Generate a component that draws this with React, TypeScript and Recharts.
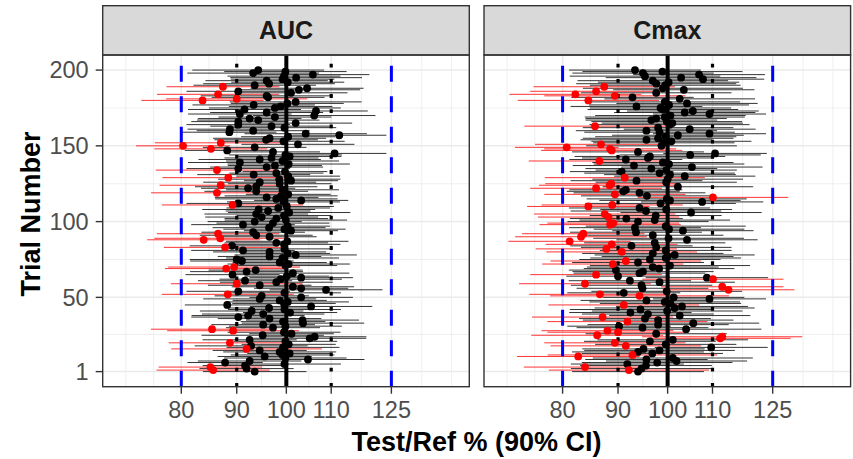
import React from "react";
import { ScatterChart, Scatter, XAxis, YAxis, ReferenceLine, ErrorBar, CartesianGrid } from "recharts";

// point estimates (Test/Ref %) for trials 1..200
const aucPE = [
  93.5, 85.6, 91.9, 85.1, 91.6, 99.6, 87.8, 92.5, 104.7, 99.8,
  95.5, 99.2, 100.7, 98.6, 94.5, 91.9, 99.3, 92.8, 100.5, 88.7,
  99.8, 92.5, 105.1, 106.2, 95.1, 101.1, 99.5, 89.3, 85.4, 97.2,
  99.8, 95.2, 103.6, 99.3, 103.5, 96.5, 90.3, 92.2, 95.2, 100.8,
  92.9, 99.6, 96.4, 105.4, 88.2, 99.5, 100.3, 98.6, 94.5, 103.2,
  94.9, 88.3, 99.6, 90.3, 108.8, 103.2, 101.4, 94.5, 90.0, 97.9,
  91.6, 98.8, 103.2, 100.1, 89.2, 101.4, 91.9, 93.7, 88.0, 89.5,
  99.8, 100.5, 98.6, 91.0, 90.0, 99.2, 96.5, 102.0, 100.3, 96.5,
  91.2, 99.6, 87.8, 89.1, 99.5, 97.9, 100.2, 83.9, 86.9, 96.5,
  93.8, 86.5, 93.2, 101.0, 99.6, 96.4, 100.3, 91.2, 97.2, 93.5,
  99.9, 97.9, 94.9, 99.5, 93.8, 100.6, 96.2, 94.3, 98.3, 100.1,
  89.2, 90.3, 99.4, 103.2, 97.9, 95.9, 98.9, 100.4, 86.3, 93.8,
  99.2, 92.2, 93.8, 87.0, 98.6, 94.5, 101.0, 98.5, 88.4, 100.4,
  93.3, 97.9, 99.7, 86.3, 90.3, 95.9, 97.6, 100.5, 90.6, 99.2,
  94.5, 96.9, 100.7, 99.8, 110.8, 97.2, 88.2, 85.2, 93.5, 80.3,
  102.5, 87.0, 99.4, 95.8, 96.5, 100.4, 111.9, 104.2, 88.6, 93.2,
  88.7, 99.6, 96.9, 90.3, 102.0, 90.3, 94.2, 92.5, 97.6, 106.1,
  90.6, 95.9, 106.5, 91.5, 97.6, 98.8, 93.3, 100.2, 102.0, 83.7,
  90.0, 96.2, 95.9, 86.5, 101.0, 90.3, 102.7, 104.5, 87.4, 93.5,
  96.4, 100.3, 95.9, 99.2, 102.1, 99.5, 105.8, 93.2, 99.8, 94.2,
];

// half width of the 90% CI on the log scale, in percent
const aucHW = [
  11, 12, 10, 11, 9, 12, 8, 11, 12, 13,
  10, 11, 9, 12, 10, 16, 12, 12, 10, 13,
  11, 10, 12, 11, 13, 9, 12, 14, 13, 10,
  12, 11, 13, 9, 12, 11, 10, 12, 13, 10,
  11, 12, 9, 13, 9, 11, 13, 10, 12, 11,
  10, 14, 12, 11, 12, 10, 13, 11, 14, 12,
  10, 13, 11, 9, 10, 12, 12, 10, 13, 14,
  11, 13, 10, 11, 10, 12, 11, 13, 9, 12,
  11, 10, 13, 9, 12, 11, 13, 12, 14, 10,
  12, 13, 11, 10, 13, 12, 9, 11, 12, 10,
  13, 11, 12, 10, 11, 13, 9, 12, 11, 10,
  15, 11, 12, 10, 13, 11, 12, 9, 14, 11,
  12, 10, 13, 13, 11, 12, 10, 13, 14, 11,
  12, 10, 9, 13, 11, 12, 10, 13, 11, 12,
  13, 10, 11, 12, 11, 10, 9, 12, 11, 10,
  12, 14, 13, 11, 12, 10, 10, 13, 10, 12,
  9, 11, 13, 11, 12, 10, 13, 11, 12, 13,
  11, 12, 11, 12, 14, 11, 13, 12, 14, 13,
  15, 12, 14, 13, 12, 11, 13, 12, 12, 13,
  14, 12, 13, 11, 14, 12, 12, 14, 13, 14,
];

const cmaxPE = [
  93.9, 92.1, 94.6, 83.9, 95.5, 91.8, 97.8, 101.9, 95.6, 101.1,
  82.7, 92.8, 96.8, 93.9, 98.3, 95.0, 109.7, 91.5, 99.6, 89.4,
  96.3, 101.1, 111.8, 112.3, 86.1, 97.6, 90.0, 88.0, 104.0, 94.8,
  90.2, 98.0, 105.6, 91.8, 98.0, 95.3, 87.1, 102.6, 95.9, 92.4,
  99.9, 94.4, 101.5, 103.1, 91.1, 100.6, 99.4, 95.6, 109.3, 101.3,
  94.2, 86.6, 91.1, 99.8, 113.8, 94.8, 112.3, 94.6, 83.9, 98.3,
  92.3, 110.1, 108.7, 90.0, 85.9, 94.2, 94.9, 89.6, 98.2, 96.9,
  100.5, 89.0, 93.9, 91.5, 96.3, 99.6, 100.0, 101.5, 96.9, 90.7,
  99.6, 87.8, 97.6, 92.6, 88.8, 97.3, 81.2, 104.2, 100.2, 83.2,
  96.9, 83.6, 93.5, 103.3, 100.3, 93.3, 99.6, 88.5, 89.1, 93.9,
  97.3, 91.6, 88.2, 97.5, 87.5, 105.1, 95.5, 99.7, 94.2, 84.5,
  88.9, 98.5, 107.6, 100.5, 99.8, 110.1, 95.7, 89.4, 94.2, 91.0,
  91.5, 85.9, 102.2, 88.4, 88.7, 99.7, 93.6, 100.0, 91.3, 103.7,
  100.5, 98.3, 90.7, 99.7, 96.6, 105.3, 93.1, 100.3, 99.0, 86.5,
  91.5, 95.9, 96.3, 104.9, 110.6, 93.9, 88.8, 88.5, 80.7, 98.7,
  86.8, 99.2, 100.8, 95.6, 98.0, 99.6, 102.2, 109.3, 98.3, 95.6,
  104.8, 98.0, 85.7, 100.4, 101.0, 99.8, 96.6, 97.6, 99.4, 100.6,
  109.3, 103.7, 105.5, 99.0, 98.5, 93.6, 100.3, 104.2, 99.4, 84.5,
  102.6, 92.8, 89.4, 82.2, 97.6, 85.9, 103.5, 99.0, 87.4, 99.5,
  97.6, 100.2, 96.9, 107.8, 102.9, 95.3, 106.9, 94.9, 98.9, 93.3,
];

const cmaxHW = [
  14, 17, 15, 13, 14, 12, 16, 15, 13, 17,
  13, 18, 15, 14, 16, 13, 12, 16, 15, 15,
  14, 16, 15, 17, 14, 15, 15, 14, 16, 14,
  11, 15, 14, 17, 16, 14, 15, 15, 14, 13,
  16, 15, 17, 14, 16, 15, 16, 14, 12, 15,
  19, 15, 12, 16, 14, 14, 13, 15, 14, 16,
  13, 15, 13, 11, 14, 14, 15, 10, 16, 14,
  17, 15, 14, 16, 15, 16, 14, 17, 15, 16,
  14, 15, 16, 13, 14, 15, 13, 15, 16, 14,
  15, 13, 14, 15, 16, 14, 17, 15, 14, 15,
  16, 12, 15, 14, 15, 15, 16, 14, 15, 13,
  15, 16, 13, 15, 17, 16, 14, 15, 14, 12,
  12, 14, 16, 15, 14, 15, 14, 16, 17, 15,
  14, 16, 11, 15, 14, 15, 13, 16, 15, 15,
  12, 14, 16, 15, 11, 14, 15, 14, 11, 16,
  14, 15, 17, 14, 16, 15, 14, 12, 16, 15,
  14, 16, 15, 17, 15, 16, 14, 15, 17, 16,
  12, 15, 14, 16, 15, 14, 17, 15, 16, 15,
  16, 13, 15, 14, 16, 14, 15, 17, 15, 16,
  17, 15, 16, 13, 16, 16, 14, 15, 17, 14,
];

const xTicks = [80, 90, 100, 110, 125];
const xMinor = [71.11, 75.42, 84.85, 94.87, 104.88, 117.26, 133.33, 142.05];
const yTicks = [1, 50, 100, 150, 200];
const yMinor = [25.5, 75, 125, 175];
const beLimits = [80, 125];
const innerLimits = [90, 110];
const xDomain = [67.7, 147.5];
const yDomain = [-8.95, 209.95];

const FONT = "'Liberation Sans', Arial, Helvetica, sans-serif";

function buildRows(pe: number[], hw: number[]) {
  return pe.map((v, i) => {
    const f = Math.exp(hw[i] / 100);
    const lo = v / f;
    const hi = v * f;
    return { trial: i + 1, pe: v, err: [v - lo, hi - v], fail: lo < 80 || hi > 125 };
  });
}

const noDot = () => <g />;
const dot = (color: string) => (p: any) => <circle cx={p.cx} cy={p.cy} r={3.9} fill={color} />;

function Panel({ rows, left, width, margin, showY }: any) {
  const pass = rows.filter((r: any) => !r.fail);
  const fail = rows.filter((r: any) => r.fail);
  return (
    <div style={{ position: "absolute", left, top: 0 }}>
      <ScatterChart width={width} height={459} margin={margin}>
        <CartesianGrid stroke="#EBEBEB" strokeWidth={0.8} verticalValues={xMinor} horizontalValues={yMinor} />
        <CartesianGrid stroke="#EBEBEB" strokeWidth={1.5} verticalValues={xTicks} horizontalValues={yTicks} />
        <XAxis
          type="number"
          dataKey="pe"
          scale="log"
          domain={xDomain}
          allowDataOverflow
          ticks={xTicks}
          interval={0}
          axisLine={false}
          tickSize={7}
          tickMargin={8}
          tickLine={{ stroke: "#333333", strokeWidth: 1.4 }}
          tick={{ fill: "#4D4D4D", fontSize: 23.5, fontFamily: FONT }}
          height={60}
        />
        <YAxis
          type="number"
          dataKey="trial"
          domain={yDomain}
          allowDataOverflow
          ticks={yTicks}
          interval={0}
          axisLine={false}
          hide={!showY}
          width={90}
          tickSize={7}
          tickMargin={7}
          tickLine={{ stroke: "#333333", strokeWidth: 1.4 }}
          tick={{ fill: "#4D4D4D", fontSize: 23.5, fontFamily: FONT }}
        />
        <Scatter data={pass} shape={noDot} isAnimationActive={false}>
          <ErrorBar dataKey="err" direction="x" width={0} stroke="#000000" strokeWidth={0.8} isAnimationActive={false} />
        </Scatter>
        <Scatter data={fail} shape={noDot} isAnimationActive={false}>
          <ErrorBar dataKey="err" direction="x" width={0} stroke="#FF0000" strokeWidth={0.8} isAnimationActive={false} />
        </Scatter>
        {beLimits.map((v) => (
          <ReferenceLine
            key={"be" + v}
            segment={[{ x: v, y: yDomain[0] }, { x: v, y: yDomain[1] }]}
            stroke="#0000FF"
            strokeWidth={3}
            strokeDasharray="16 14.5"
          />
        ))}
        {innerLimits.map((v) => (
          <ReferenceLine
            key={"in" + v}
            segment={[{ x: v, y: yDomain[0] }, { x: v, y: yDomain[1] }]}
            stroke="#000000"
            strokeWidth={3.2}
            strokeDasharray="3.8 11.4"
          />
        ))}
        <ReferenceLine segment={[{ x: 100, y: yDomain[0] }, { x: 100, y: yDomain[1] }]} stroke="#000000" strokeWidth={4} />
        <Scatter data={pass} shape={dot("#000000")} isAnimationActive={false} />
        <Scatter data={fail} shape={dot("#FF0000")} isAnimationActive={false} />
      </ScatterChart>
    </div>
  );
}

export default function App() {
  const auc = buildRows(aucPE, aucHW);
  const cmax = buildRows(cmaxPE, cmaxHW);
  const panels = [
    { label: "AUC", x0: 102.7, x1: 469.3 },
    { label: "Cmax", x0: 484, x1: 850.6 },
  ];
  return (
    <div style={{ position: "absolute", left: 0, top: 0, width: 853, height: 459, background: "#FFFFFF", overflow: "hidden" }}>
      <Panel rows={auc} left={0} width={480} showY margin={{ top: 55, right: 10.7, bottom: 12.3, left: 12.7 }} />
      <Panel rows={cmax} left={474} width={379} showY={false} margin={{ top: 55, right: 2.4, bottom: 12.3, left: 10 }} />
      <svg width={853} height={459} style={{ position: "absolute", left: 0, top: 0, pointerEvents: "none" }}>
        {panels.map((p) => (
          <g key={p.label}>
            <rect x={p.x0} y={5.7} width={p.x1 - p.x0} height={49.3} fill="#D9D9D9" stroke="#333333" strokeWidth={1.4} />
            <rect x={p.x0} y={55} width={p.x1 - p.x0} height={331.7} fill="none" stroke="#333333" strokeWidth={1.4} />
            <text x={(p.x0 + p.x1) / 2} y={39.3} textAnchor="middle" fontFamily={FONT} fontWeight="bold" fontSize={25} fill="#1A1A1A">
              {p.label}
            </text>
          </g>
        ))}
        <text x={476.6} y={451} textAnchor="middle" fontFamily={FONT} fontWeight="bold" fontSize={27} fill="#000000">
          Test/Ref % (90% CI)
        </text>
        <text transform="translate(40,214) rotate(-90)" textAnchor="middle" fontFamily={FONT} fontWeight="bold" fontSize={27} fill="#000000">
          Trial Number
        </text>
      </svg>
    </div>
  );
}
